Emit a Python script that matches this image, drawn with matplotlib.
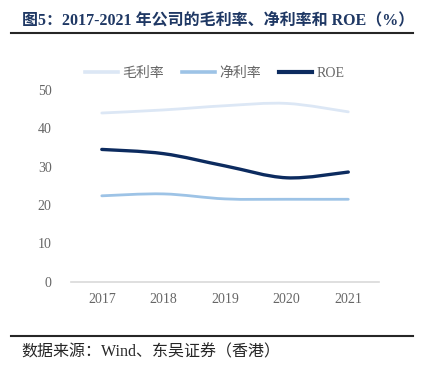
import numpy as np
import matplotlib.pyplot as plt
from matplotlib.path import Path
from matplotlib.patches import PathPatch
from matplotlib.lines import Line2D

plt.rcParams['font.family'] = ['Liberation Serif', 'Noto Sans CJK SC']

years = [2017, 2018, 2019, 2020, 2021]
gross_margin = [44.0, 44.8, 45.9, 46.5, 44.3]
net_margin = [22.4, 22.9, 21.6, 21.5, 21.5]
roe = [34.5, 33.4, 30.2, 27.1, 28.6]

series = [
    ("毛利率", gross_margin, "#DCE7F5", 2.0),
    ("净利率", net_margin, "#9DC3E6", 2.0),
    ("ROE", roe, "#0C2B5F", 2.4),
]


def smooth_path(xs, ys, t=1 / 6):
    # Excel-style smoothed line drawn as cubic Bezier segments
    pts = np.column_stack([xs, ys]).astype(float)
    verts = [pts[0]]
    codes = [Path.MOVETO]
    n = len(pts)
    for i in range(n - 1):
        p0 = pts[i - 1] if i > 0 else pts[i]
        p1 = pts[i]
        p2 = pts[i + 1]
        p3 = pts[i + 2] if i + 2 < n else pts[i + 1]
        c1 = p1 + (p2 - p0) * t
        c2 = p2 - (p3 - p1) * t
        verts += [c1, c2, p2]
        codes += [Path.CURVE4] * 3
    return Path(verts, codes)


fig = plt.figure(figsize=(4.25, 3.71), dpi=100)
ax = fig.add_axes([0.167, 0.2407, 0.725, 0.5167])

x = np.arange(len(years))
handles = []
for name, vals, color, lw in series:
    patch = PathPatch(smooth_path(x, vals), facecolor="none", edgecolor=color,
                      lw=lw, capstyle="round", joinstyle="round")
    ax.add_patch(patch)
    handles.append(Line2D([], [], color=color, lw=lw + 0.6, label=name))

ax.set_xlim(-0.5, len(years) - 0.5)
ax.set_ylim(0, 50)
ax.set_xticks(x)
ax.set_xticklabels([str(y) for y in years])
ax.set_yticks(range(0, 51, 10))
for s in ["top", "right", "left"]:
    ax.spines[s].set_visible(False)
ax.spines["bottom"].set_color("#D9D9D9")
ax.spines["bottom"].set_linewidth(1.2)
ax.tick_params(axis="both", length=0, labelsize=10, colors="#666666", pad=8)
ax.tick_params(axis="y", pad=14)

fig.legend(handles=handles, loc="center", bbox_to_anchor=(0.505, 0.803), ncol=3,
           frameon=False, fontsize=10, handlelength=2.4, columnspacing=1.3,
           handletextpad=0.3, labelcolor="#666666")

fig.text(0.052, 0.945, "图5：2017-2021 年公司的毛利率、净利率和 ROE（%）",
         fontsize=11.5, fontweight="bold", color="#1F3864", va="center")
fig.add_artist(Line2D([0.026, 0.972], [0.911, 0.911], color="#262626", lw=1.5))
fig.add_artist(Line2D([0.026, 0.972], [0.094, 0.094], color="#262626", lw=1.5))
fig.text(0.05, 0.051, "数据来源：Wind、东吴证券（香港）", fontsize=11.5,
         color="#262626", va="center")

fig.savefig("out.png", dpi=100)
plt.close(fig)
